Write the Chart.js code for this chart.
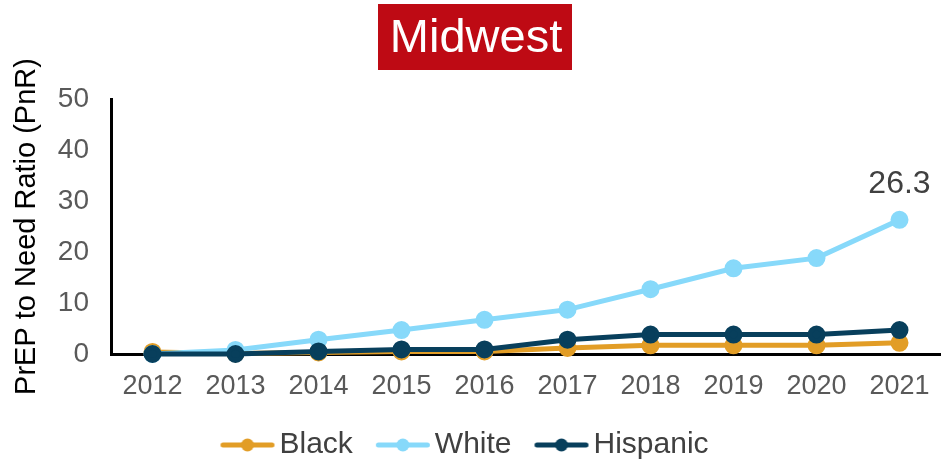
<!DOCTYPE html>
<html>
<head>
<meta charset="utf-8">
<script src="https://cdn.jsdelivr.net/npm/chart.js@4.4.1/dist/chart.umd.min.js"></script>
<style>
  html, body { margin: 0; padding: 0; background: #fff; }
  #wrap { width: 941px; height: 463px; position: relative; }
</style>
</head>
<body>
<div id="wrap"><canvas id="c" width="941" height="463"></canvas></div>
<script>
const years = ['2012','2013','2014','2015','2016','2017','2018','2019','2020','2021'];
const blackValues = [0.4, 0.1, 0.3, 0.5, 0.5, 1.2, 1.7, 1.7, 1.7, 2.2];
const whiteValues = [0.0, 0.8, 2.8, 4.7, 6.7, 8.7, 12.7, 16.8, 18.8, 26.3];
const hispanicValues = [0.0, 0.0, 0.5, 0.9, 0.9, 2.8, 3.8, 3.8, 3.8, 4.7];
const yTicks = [0, 10, 20, 30, 40, 50];
const titleText = 'Midwest';
const yTitle = 'PrEP to Need Ratio (PnR)';
const labelledValue = whiteValues[whiteValues.length - 1];

const COLORS = { black: '#E29D26', white: '#87D9FA', hispanic: '#083F5C' };
const FONT = 'Arial, "Liberation Sans", sans-serif';

function legendIcon(color) {
  const cv = document.createElement('canvas');
  cv.width = 88; cv.height = 16;
  const g = cv.getContext('2d');
  g.strokeStyle = color; g.lineWidth = 5; g.lineCap = 'round';
  g.beginPath(); g.moveTo(24.5, 8); g.lineTo(73.5, 8); g.stroke();
  g.fillStyle = color;
  g.beginPath(); g.arc(49, 8, 6.5, 0, Math.PI * 2); g.fill();
  return cv;
}

const titleBox = {
  id: 'titleBox',
  afterDraw(chart) {
    const ctx = chart.ctx;
    ctx.save();
    ctx.fillStyle = '#BE0A14';
    ctx.fillRect(378, 4, 194, 66);
    ctx.fillStyle = '#ffffff';
    ctx.font = '47px ' + FONT;
    ctx.textAlign = 'center';
    ctx.textBaseline = 'middle';
    ctx.fillText(titleText, 476, 39);
    ctx.restore();
  }
};

const valueLabel = {
  id: 'valueLabel',
  afterDatasetsDraw(chart) {
    const meta = chart.getDatasetMeta(1);
    const pt = meta.data[meta.data.length - 1];
    const ctx = chart.ctx;
    ctx.save();
    ctx.fillStyle = '#404040';
    ctx.font = '32px ' + FONT;
    ctx.textAlign = 'center';
    ctx.textBaseline = 'middle';
    ctx.fillText(labelledValue.toFixed(1), pt.x, pt.y - 36);
    ctx.restore();
  }
};

const legendShift = {
  id: 'legendShift',
  afterLayout(chart) {
    if (chart.legend) { chart.legend.right -= 14; }
  }
};

const ds = (label, data, color, order) => ({
  label, data,
  borderColor: color, backgroundColor: color,
  pointBackgroundColor: color, pointBorderColor: color,
  borderWidth: 5, pointRadius: 6.5, pointHoverRadius: 6.5,
  tension: 0, clip: false, order
});

new Chart(document.getElementById('c'), {
  type: 'line',
  data: {
    labels: years,
    datasets: [
      ds('Black', blackValues, COLORS.black, 2),
      ds('White', whiteValues, COLORS.white, 1),
      ds('Hispanic', hispanicValues, COLORS.hispanic, 0)
    ]
  },
  options: {
    responsive: false,
    animation: false,
    layout: { autoPadding: false, padding: { top: 99, right: -2, left: 0, bottom: -7 } },
    plugins: {
      tooltip: { enabled: false },
      title: { display: false },
      legend: {
        position: 'bottom',
        labels: {
          usePointStyle: true,
          pointStyleWidth: 44,
          boxHeight: 16,
          padding: 23,
          color: '#404040',
          font: { size: 30, family: FONT },
          sort: (a, b) => a.datasetIndex - b.datasetIndex,
          generateLabels(chart) {
            return chart.data.datasets.map((d, i) => ({
              text: d.label,
              fillStyle: d.borderColor,
              strokeStyle: d.borderColor,
              lineWidth: 0,
              pointStyle: legendIcon(d.borderColor),
              fontColor: '#404040',
              hidden: false,
              datasetIndex: i
            }));
          }
        }
      }
    },
    scales: {
      x: {
        offset: true,
        grid: { display: false, drawTicks: false },
        border: { display: true, color: '#000', width: 3 },
        ticks: { color: '#595959', padding: 16, font: { size: 27, family: FONT }, maxRotation: 0 },
        afterFit(s) { s.height = 53; s.paddingLeft = 0; s.paddingRight = 0; }
      },
      y: {
        min: 0, max: 50,
        afterBuildTicks(s) { s.ticks = yTicks.map(v => ({ value: v })); },
        grid: { display: false, drawTicks: false },
        border: { display: true, color: '#000', width: 3 },
        ticks: { color: '#595959', padding: 22, font: { size: 28, family: FONT } },
        title: {
          display: true, text: yTitle, color: '#000',
          font: { size: 29, family: FONT }, padding: { top: 10, bottom: 0 }
        },
        afterFit(s) { s.width = 111; s.paddingTop = 0; s.paddingBottom = 0; }
      }
    }
  },
  plugins: [titleBox, valueLabel, legendShift]
});
</script>
</body>
</html>
